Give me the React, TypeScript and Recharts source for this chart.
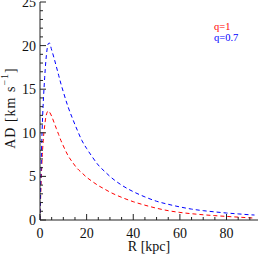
import React from 'react';
import { LineChart, Line, XAxis, YAxis, Legend, Label } from 'recharts';

const rValues = [0, 0.5, 1, 1.5, 2, 2.5, 3, 3.5, 4, 5, 6, 7, 8, 9, 10, 12, 14, 16, 18, 20, 22, 25, 28, 30, 35, 40, 45, 50, 55, 60, 65, 70, 75, 80, 85, 90, 92];
const adQ1 = [0, 4.5, 7.5, 9.5, 10.8, 11.8, 12.3, 12.5, 12.4, 11.9, 11.2, 10.5, 9.8, 9.1, 8.5, 7.4, 6.6, 5.9, 5.4, 4.9, 4.5, 3.95, 3.5, 3.2, 2.6, 2.1, 1.7, 1.35, 1.07, 0.87, 0.72, 0.6, 0.5, 0.41, 0.33, 0.25, 0.22];
const adQ07 = [0, 6.5, 11, 14, 16.3, 18.2, 19.5, 20.2, 20.3, 19.5, 18.6, 17.6, 16.6, 15.6, 14.7, 13.0, 11.6, 10.3, 9.1, 8.2, 7.4, 6.3, 5.5, 5.0, 4.0, 3.25, 2.65, 2.15, 1.8, 1.5, 1.25, 1.07, 0.93, 0.8, 0.7, 0.6, 0.57];

const seriesNames = ['q=1', 'q=0.7'];

const xTicks = [0, 5, 10, 15, 20, 25, 30, 35, 40, 45, 50, 55, 60, 65, 70, 75, 80, 85, 90];
const xMajorStep = 20;
const yTicks = [0, 1, 2, 3, 4, 5, 6, 7, 8, 9, 10, 11, 12, 13, 14, 15, 16, 17, 18, 19, 20, 21, 22, 23, 24, 25];
const yMajorStep = 5;

const data = rValues.map((r, i) => ({ r, q1: adQ1[i], q07: adQ07[i] }));

const FONT = '"Liberation Serif", "DejaVu Serif", serif';
const AXIS = '#222';

const BottomTick = (props: any) => {
  const { x, y, payload } = props;
  const major = payload.value % xMajorStep === 0;
  const len = major ? 6 : 3;
  return (
    <g>
      <line x1={x} x2={x} y1={y} y2={y - len} stroke={AXIS} strokeWidth={1} />
      {major && (
        <text x={x} y={y + 18} textAnchor="middle" fontFamily={FONT} fontSize={14} fill="#111">
          {payload.value}
        </text>
      )}
    </g>
  );
};

const TopTick = (props: any) => {
  const { x, y, payload } = props;
  const major = payload.value % xMajorStep === 0;
  const len = major ? 6 : 3;
  return <line x1={x} x2={x} y1={y} y2={y + len} stroke={AXIS} strokeWidth={1} />;
};

const LeftTick = (props: any) => {
  const { x, y, payload } = props;
  const major = payload.value % yMajorStep === 0;
  const len = major ? 6 : 3;
  return (
    <g>
      <line x1={x} x2={x + len} y1={y} y2={y} stroke={AXIS} strokeWidth={1} />
      {major && (
        <text x={x - 4} y={y + 5} textAnchor="end" fontFamily={FONT} fontSize={14} fill="#111">
          {payload.value}
        </text>
      )}
    </g>
  );
};

const RightTick = (props: any) => {
  const { x, y, payload } = props;
  const major = payload.value % yMajorStep === 0;
  const len = major ? 6 : 3;
  return <line x1={x} x2={x - len} y1={y} y2={y} stroke={AXIS} strokeWidth={1} />;
};

const LegendContent = (props: any) => {
  const items = [...(props.payload || [])].sort(
    (a: any, b: any) => seriesNames.indexOf(a.value) - seriesNames.indexOf(b.value)
  );
  return (
    <div style={{ fontFamily: FONT, fontSize: 10.5, lineHeight: '11px' }}>
      {items.map((p: any) => (
        <div key={p.value} style={{ color: p.color }}>{p.value}</div>
      ))}
    </div>
  );
};

export default function App() {
  return (
    <div style={{ position: 'absolute', left: 0, top: 0, width: 260, height: 257, background: '#fff' }}>
      <LineChart width={260} height={257} data={data} margin={{ top: 2, right: 2, left: 0, bottom: 0 }}>
        <XAxis
          xAxisId="bottom"
          dataKey="r"
          type="number"
          domain={[0, 93.5]}
          ticks={xTicks}
          interval={0}
          tickSize={0}
          tickMargin={0}
          tickLine={false}
          tick={<BottomTick />}
          axisLine={{ stroke: AXIS }}
          height={37}
          allowDataOverflow
        >
          <Label
            content={(p: any) => {
              const vb = p.viewBox || {};
              return (
                <text x={vb.x + vb.width / 2} y={vb.y + 31} textAnchor="middle" fontFamily={FONT} fontSize={14} fill="#111">
                  R [kpc]
                </text>
              );
            }}
          />
        </XAxis>
        <XAxis
          xAxisId="top"
          orientation="top"
          dataKey="r"
          type="number"
          domain={[0, 93.5]}
          ticks={xTicks}
          interval={0}
          tickSize={0}
          tickMargin={0}
          tickLine={false}
          tick={<TopTick />}
          axisLine={{ stroke: AXIS }}
          height={0}
          allowDataOverflow
        />
        <YAxis
          yAxisId="left"
          type="number"
          domain={[0, 25]}
          ticks={yTicks}
          interval={0}
          tickSize={0}
          tickMargin={0}
          tickLine={false}
          tick={<LeftTick />}
          axisLine={{ stroke: AXIS }}
          width={40}
          allowDataOverflow
        >
          <Label
            content={(p: any) => {
              const vb = p.viewBox || {};
              const cx = 10;
              const cy = vb.y + vb.height / 2 - 3;
              return (
                <text
                  x={cx}
                  y={cy}
                  transform={`rotate(-90, ${cx}, ${cy})`}
                  textAnchor="middle"
                  dominantBaseline="central"
                  fontFamily={FONT}
                  fontSize={14}
                  letterSpacing={1}
                  fill="#111"
                >
                  AD [km s<tspan baselineShift="super" fontSize={10}>−1</tspan>]
                </text>
              );
            }}
          />
        </YAxis>
        <YAxis
          yAxisId="right"
          orientation="right"
          type="number"
          domain={[0, 25]}
          ticks={yTicks}
          interval={0}
          tickSize={0}
          tickMargin={0}
          tickLine={false}
          tick={<RightTick />}
          axisLine={{ stroke: AXIS }}
          width={0}
          allowDataOverflow
        />
        <Legend
          layout="vertical"
          align="center"
          verticalAlign="middle"
          content={<LegendContent />}
          wrapperStyle={{ position: 'absolute', top: 21, left: 214, width: 'auto', height: 'auto' }}
        />
        <Line
          xAxisId="bottom"
          yAxisId="left"
          dataKey="q1"
          name={seriesNames[0]}
          type="monotone"
          stroke="#ff0000"
          strokeWidth={1}
          strokeDasharray="4 3"
          dot={false}
          isAnimationActive={false}
        />
        <Line
          xAxisId="bottom"
          yAxisId="left"
          dataKey="q07"
          name={seriesNames[1]}
          type="monotone"
          stroke="#0000ff"
          strokeWidth={1}
          strokeDasharray="4 3"
          dot={false}
          isAnimationActive={false}
        />
      </LineChart>
    </div>
  );
}
